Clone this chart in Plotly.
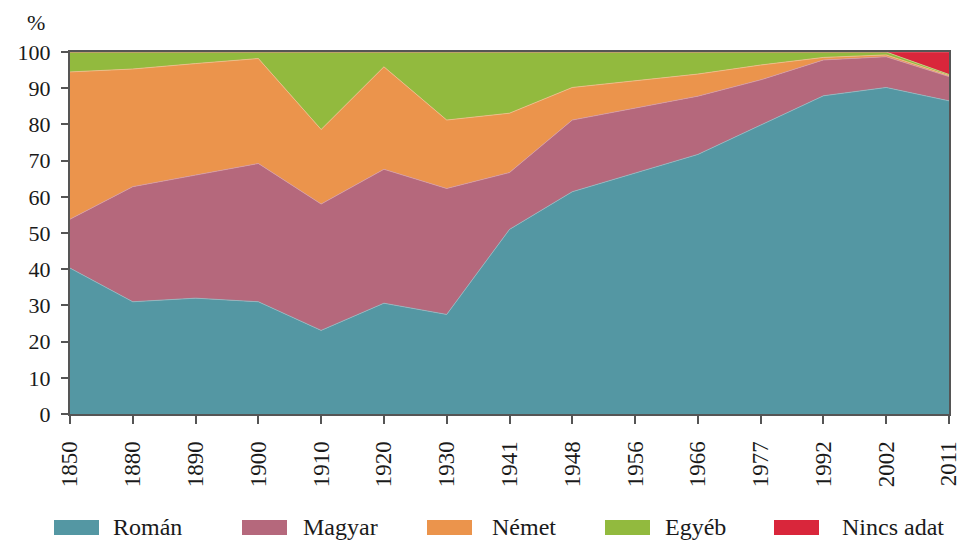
import plotly.graph_objects as go

years = ["1850", "1880", "1890", "1900", "1910", "1920", "1930", "1941",
         "1948", "1956", "1966", "1977", "1992", "2002", "2011"]

roman = [40.3, 31.0, 32.0, 31.0, 23.1, 30.6, 27.5, 51.0, 61.4, 66.5, 71.7, 79.8, 87.9, 90.2, 86.5]
magyar = [13.5, 31.8, 34.0, 38.2, 34.9, 37.0, 34.8, 15.7, 19.8, 17.9, 16.1, 12.5, 9.9, 8.5, 6.7]
nemet = [40.7, 32.5, 30.8, 29.0, 20.6, 28.3, 18.9, 16.4, 9.0, 7.7, 6.1, 4.1, 0.7, 0.5, 0.3]
egyeb = [5.5, 4.7, 3.2, 1.8, 21.4, 4.1, 18.8, 16.9, 9.8, 7.9, 6.1, 3.6, 1.5, 0.8, 0.3]
nincs = [0, 0, 0, 0, 0, 0, 0, 0, 0, 0, 0, 0, 0, 0, 6.2]

series_names = ["Román", "Magyar", "Német", "Egyéb", "Nincs adat"]
series_values = [roman, magyar, nemet, egyeb, nincs]
colors = ["#5497A3", "#B5687C", "#EB944C", "#92BA3E", "#D9263B"]
edge_colors = ["#8fbcc4", "#d39aa8", "#f4bd8e", "#c0dc86", "#e8707e"]

FONT = "Liberation Serif"
W, H = 962, 542
L, R, T, B = 70, 13, 52, 128
PW, PH = W - L - R, H - T - B

fig = go.Figure()
for name, vals, col, ecol in zip(series_names, series_values, colors, edge_colors):
    fig.add_trace(go.Scatter(
        x=years, y=vals, name=name, mode="lines", stackgroup="one",
        line=dict(width=0.8, color=ecol), fillcolor=col, showlegend=False,
    ))

def px_x(px):
    return (px - L) / PW

def px_y(py):
    return (H - B - py) / PH

shapes = []
annotations = []
sw_x = [54, 242, 427, 605, 774]
tx_x = [111, 301, 490, 663, 840]
for name, col, sx, tx in zip(series_names, colors, sw_x, tx_x):
    shapes.append(dict(type="rect", xref="paper", yref="paper",
                       x0=px_x(sx), x1=px_x(sx + 45), y0=px_y(535), y1=px_y(520),
                       fillcolor=col, line=dict(width=0)))
    annotations.append(dict(text=name, xref="paper", yref="paper",
                            x=px_x(tx), y=px_y(527), xanchor="left", yanchor="middle",
                            showarrow=False, font=dict(family=FONT, size=24, color="#1a1a1a")))

annotations.append(dict(text="%", xref="paper", yref="paper", x=px_x(36), y=px_y(22),
                        xanchor="center", yanchor="middle", showarrow=False,
                        font=dict(family=FONT, size=22, color="#1a1a1a")))

fig.update_layout(
    width=W, height=H, autosize=False,
    margin=dict(l=L, r=R, t=T, b=B),
    paper_bgcolor="white", plot_bgcolor="white",
    font=dict(family=FONT, size=21, color="#1a1a1a"),
    shapes=shapes, annotations=annotations,
    xaxis=dict(type="category", range=[0, len(years) - 1], showgrid=False, zeroline=False,
               automargin=False,
               showline=True, linecolor="#555555", linewidth=2, mirror=True,
               ticks="outside", ticklen=8, tickwidth=1.5, tickcolor="#555555",
               ticklabelstandoff=8,
               tickangle=-90, tickfont=dict(family=FONT, size=23, color="#1a1a1a")),
    yaxis=dict(range=[0, 100], dtick=10, showgrid=False, zeroline=False,
               automargin=False,
               showline=True, linecolor="#555555", linewidth=2, mirror=True,
               ticks="outside", ticklen=7, tickwidth=1.5, tickcolor="#555555",
               ticklabelstandoff=6,
               tickfont=dict(family=FONT, size=22, color="#1a1a1a")),
)

fig.write_html(
    "out.html",
    config={"displayModeBar": False, "responsive": False},
    post_script="document.body.style.margin='0';document.body.style.overflow='hidden';",
)
